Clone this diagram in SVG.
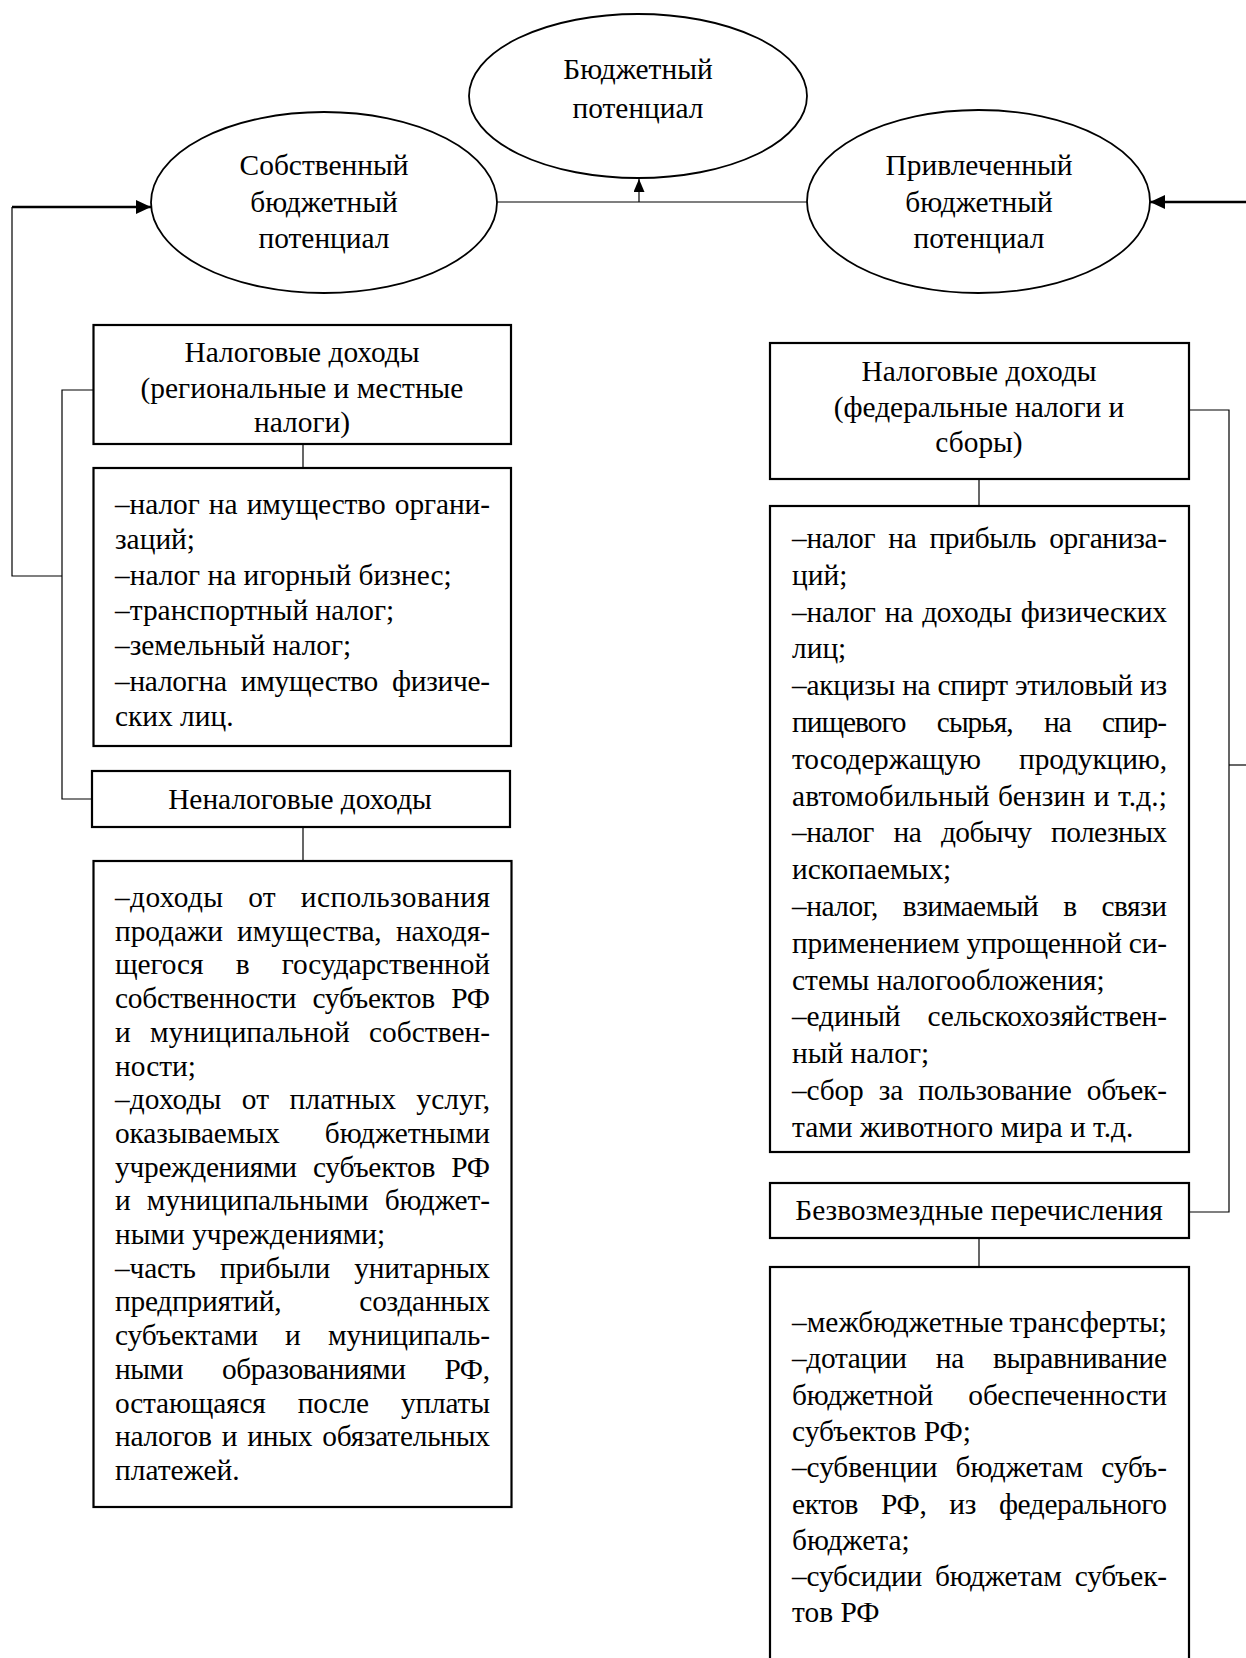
<svg xmlns="http://www.w3.org/2000/svg" width="1246" height="1658" viewBox="0 0 1246 1658">
<style>
.t{font-family:"Liberation Serif","Times New Roman",serif;font-size:29.4px;fill:#000}
.c{text-anchor:middle}
.box{fill:#fff;stroke:#000;stroke-width:2.2}
.ell{fill:#fff;stroke:#000;stroke-width:1.8}
.ln{fill:none;stroke:#000;stroke-width:1.2}
.thick{fill:none;stroke:#000;stroke-width:2.6}
</style>
<defs>
<marker id="ab" markerUnits="userSpaceOnUse" markerWidth="15" markerHeight="14" viewBox="0 0 15 14" refX="15" refY="7" orient="auto"><path d="M0,0 L15,7 L0,14 z" fill="#000"/></marker>
<marker id="as" markerUnits="userSpaceOnUse" markerWidth="13" markerHeight="11" viewBox="0 0 13 11" refX="13" refY="5.5" orient="auto"><path d="M0,0 L13,5.5 L0,11 z" fill="#000"/></marker>
</defs>
<rect x="0" y="0" width="1246" height="1658" fill="#fff"/>

<g id="connectors">
<line class="ln" x1="497" y1="202" x2="807" y2="202"/>
<line class="ln" x1="639" y1="202" x2="639" y2="179" marker-end="url(#as)"/>
<polyline class="ln" points="62,576 12,576 12,207"/>
<line class="thick" x1="12" y1="207" x2="151" y2="207" marker-end="url(#ab)"/>
<polyline class="ln" points="93,390 62,390 62,799 92,799"/>
<line class="ln" x1="303" y1="444" x2="303" y2="468"/>
<line class="ln" x1="303" y1="827" x2="303" y2="861"/>
<line class="thick" x1="1246" y1="202" x2="1150" y2="202" marker-end="url(#ab)"/>
<polyline class="ln" points="1189,410 1229,410 1229,1212 1189,1212"/>
<line class="ln" x1="1229" y1="765" x2="1246" y2="765"/>
<line class="ln" x1="979" y1="479" x2="979" y2="506"/>
<line class="ln" x1="979" y1="1238" x2="979" y2="1267"/>
</g>

<g id="node-budget">
<ellipse class="ell" cx="638" cy="96" rx="169" ry="82"/>
<text class="t c" x="638" y="79">Бюджетный</text>
<text class="t c" x="638" y="118">потенциал</text>
</g>

<g id="node-own">
<ellipse class="ell" cx="324" cy="202.5" rx="173" ry="90.5"/>
<text class="t c" x="324" y="175">Собственный</text>
<text class="t c" x="324" y="212">бюджетный</text>
<text class="t c" x="324" y="248">потенциал</text>
</g>

<g id="node-attracted">
<ellipse class="ell" cx="978.5" cy="201.5" rx="171.5" ry="91.5"/>
<text class="t c" x="979" y="175">Привлеченный</text>
<text class="t c" x="979" y="212">бюджетный</text>
<text class="t c" x="979" y="248">потенциал</text>
</g>

<g id="node-tax-regional">
<rect class="box" x="93.5" y="325" width="417.5" height="119"/>
<text class="t c" x="302" y="362">Налоговые доходы</text>
<text class="t c" x="302" y="397.5">(региональные и местные</text>
<text class="t c" x="302" y="432">налоги)</text>
</g>

<g id="node-tax-regional-list">
<rect class="box" x="93.5" y="468" width="417.5" height="278"/>
<text class="t" x="115" y="514" textLength="375" lengthAdjust="spacing" word-spacing="2">–налог на имущество органи-</text>
<text class="t" x="115" y="549.3">заций;</text>
<text class="t" x="115" y="584.6">–налог на игорный бизнес;</text>
<text class="t" x="115" y="619.9">–транспортный налог;</text>
<text class="t" x="115" y="655.2">–земельный налог;</text>
<text class="t" x="115" y="690.5" textLength="375" lengthAdjust="spacing" word-spacing="7">–налогна имущество физиче-</text>
<text class="t" x="115" y="725.8">ских лиц.</text>
</g>

<g id="node-nontax">
<rect class="box" x="92" y="771" width="418" height="56"/>
<text class="t c" x="300" y="809">Неналоговые доходы</text>
</g>

<g id="node-nontax-list">
<rect class="box" x="93.5" y="861" width="418" height="646"/>
<text class="t" x="115" y="907" textLength="375" lengthAdjust="spacing" word-spacing="17">–доходы от использования</text>
<text class="t" x="115" y="940.7" textLength="375" lengthAdjust="spacing" word-spacing="7">продажи имущества, находя-</text>
<text class="t" x="115" y="974.4" textLength="375" lengthAdjust="spacing" word-spacing="25">щегося в государственной</text>
<text class="t" x="115" y="1008.1" textLength="375" lengthAdjust="spacing" word-spacing="9">собственности субъектов РФ</text>
<text class="t" x="115" y="1041.8" textLength="375" lengthAdjust="spacing" word-spacing="12">и муниципальной собствен-</text>
<text class="t" x="115" y="1075.5">ности;</text>
<text class="t" x="115" y="1109.2" textLength="375" lengthAdjust="spacing" word-spacing="13">–доходы от платных услуг,</text>
<text class="t" x="115" y="1142.9" textLength="375" lengthAdjust="spacing" word-spacing="38">оказываемых бюджетными</text>
<text class="t" x="115" y="1176.6" textLength="375" lengthAdjust="spacing" word-spacing="9">учреждениями субъектов РФ</text>
<text class="t" x="115" y="1210.3" textLength="375" lengthAdjust="spacing" word-spacing="9">и муниципальными бюджет-</text>
<text class="t" x="115" y="1244">ными учреждениями;</text>
<text class="t" x="115" y="1277.7" textLength="375" lengthAdjust="spacing" word-spacing="17">–часть прибыли унитарных</text>
<text class="t" x="115" y="1311.4" textLength="375" lengthAdjust="spacing" word-spacing="71">предприятий, созданных</text>
<text class="t" x="115" y="1345.1" textLength="375" lengthAdjust="spacing" word-spacing="20">субъектами и муниципаль-</text>
<text class="t" x="115" y="1378.8" textLength="375" lengthAdjust="spacing" word-spacing="32">ными образованиями РФ,</text>
<text class="t" x="115" y="1412.5" textLength="375" lengthAdjust="spacing" word-spacing="25">остающаяся после уплаты</text>
<text class="t" x="115" y="1446.2" textLength="375" lengthAdjust="spacing" word-spacing="3">налогов и иных обязательных</text>
<text class="t" x="115" y="1479.9">платежей.</text>
</g>

<g id="node-tax-federal">
<rect class="box" x="770" y="343" width="419" height="136"/>
<text class="t c" x="979" y="381">Налоговые доходы</text>
<text class="t c" x="979" y="416.5">(федеральные налоги и</text>
<text class="t c" x="979" y="452">сборы)</text>
</g>

<g id="node-tax-federal-list">
<rect class="box" x="770" y="506" width="419" height="646"/>
<text class="t" x="792" y="548" textLength="375" lengthAdjust="spacing" word-spacing="6">–налог на прибыль организа-</text>
<text class="t" x="792" y="584.8">ций;</text>
<text class="t" x="792" y="621.6" textLength="375" lengthAdjust="spacing" word-spacing="2">–налог на доходы физических</text>
<text class="t" x="792" y="658.4">лиц;</text>
<text class="t" x="792" y="695.2" textLength="375" lengthAdjust="spacing" word-spacing="0">–акцизы на спирт этиловый из</text>
<text class="t" x="792" y="732" textLength="375" lengthAdjust="spacing" word-spacing="25">пищевого сырья, на спир-</text>
<text class="t" x="792" y="768.8" textLength="375" lengthAdjust="spacing" word-spacing="31">тосодержащую продукцию,</text>
<text class="t" x="792" y="805.6" textLength="375" lengthAdjust="spacing" word-spacing="1">автомобильный бензин и т.д.;</text>
<text class="t" x="792" y="842.4" textLength="375" lengthAdjust="spacing" word-spacing="13">–налог на добычу полезных</text>
<text class="t" x="792" y="879.2">ископаемых;</text>
<text class="t" x="792" y="916" textLength="375" lengthAdjust="spacing" word-spacing="18">–налог, взимаемый в связи</text>
<text class="t" x="792" y="952.8" textLength="375" lengthAdjust="spacing" word-spacing="0">применением упрощенной си-</text>
<text class="t" x="792" y="989.6">стемы налогообложения;</text>
<text class="t" x="792" y="1026.4" textLength="375" lengthAdjust="spacing" word-spacing="20">–единый сельскохозяйствен-</text>
<text class="t" x="792" y="1063.2">ный налог;</text>
<text class="t" x="792" y="1100" textLength="375" lengthAdjust="spacing" word-spacing="8">–сбор за пользование объек-</text>
<text class="t" x="792" y="1136.8">тами животного мира и т.д.</text>
</g>

<g id="node-transfers">
<rect class="box" x="770" y="1183" width="419" height="55"/>
<text class="t c" x="979" y="1220">Безвозмездные перечисления</text>
</g>

<g id="node-transfers-list">
<rect class="box" x="770" y="1267" width="419" height="420"/>
<text class="t" x="792" y="1332" textLength="375" lengthAdjust="spacing" word-spacing="-1">–межбюджетные трансферты;</text>
<text class="t" x="792" y="1368.3" textLength="375" lengthAdjust="spacing" word-spacing="22">–дотации на выравнивание</text>
<text class="t" x="792" y="1404.6" textLength="375" lengthAdjust="spacing" word-spacing="28">бюджетной обеспеченности</text>
<text class="t" x="792" y="1440.9">субъектов РФ;</text>
<text class="t" x="792" y="1477.2" textLength="375" lengthAdjust="spacing" word-spacing="11">–субвенции бюджетам субъ-</text>
<text class="t" x="792" y="1513.5" textLength="375" lengthAdjust="spacing" word-spacing="16">ектов РФ, из федерального</text>
<text class="t" x="792" y="1549.8">бюджета;</text>
<text class="t" x="792" y="1586.1" textLength="375" lengthAdjust="spacing" word-spacing="6">–субсидии бюджетам субъек-</text>
<text class="t" x="792" y="1622.4">тов РФ</text>
</g>
</svg>
